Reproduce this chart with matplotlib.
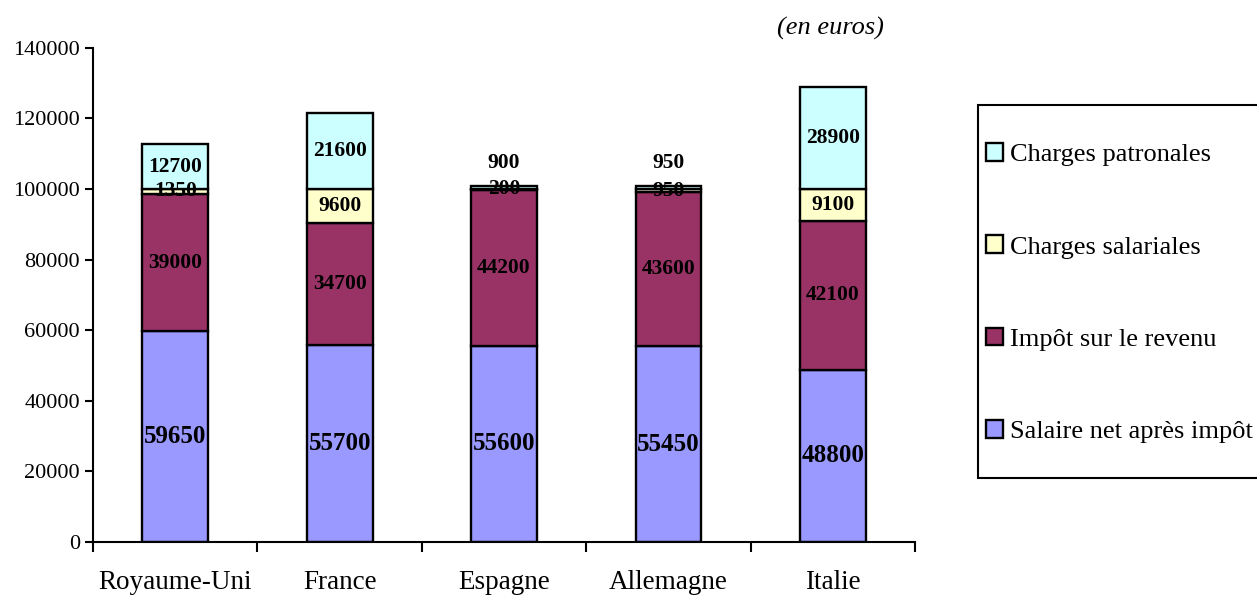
import matplotlib.pyplot as plt
from matplotlib.patches import Rectangle
import numpy as np

plt.rcParams['font.family'] = ['Liberation Serif', 'DejaVu Serif']

pays = ['Royaume-Uni', 'France', 'Espagne', 'Allemagne', 'Italie']
salaire_net = [59650, 55700, 55600, 55450, 48800]
impot_revenu = [39000, 34700, 44200, 43600, 42100]
charges_sal = [1350, 9600, 200, 950, 9100]
charges_pat = [12700, 21600, 900, 950, 28900]

series = [
    ('Salaire net après impôt', salaire_net, '#9999FF'),
    ('Impôt sur le revenu', impot_revenu, '#993366'),
    ('Charges salariales', charges_sal, '#FFFFCC'),
    ('Charges patronales', charges_pat, '#CCFFFF'),
]

fig = plt.figure(figsize=(12.57, 5.97), dpi=100)
ax = fig.add_axes([0.074, 0.092, 0.654, 0.828])

x = np.arange(len(pays))
bas = np.zeros(len(pays))
handles = []
for nom, vals, col in series:
    vals = np.array(vals, dtype=float)
    b = ax.bar(x, vals, 0.4, bottom=bas, color=col, edgecolor='black',
               linewidth=1.7, label=nom)
    handles.append(b)
    for i, v in enumerate(vals):
        taille = 18 if nom.startswith('Salaire') else 15.5
        if v < 1500 and nom == 'Charges patronales':
            # petites valeurs : étiquette au-dessus de la barre
            ax.text(x[i], bas[i] + v + 3500, f'{int(v)}', ha='center',
                    va='bottom', fontsize=taille, fontweight='bold')
        else:
            ax.text(x[i], bas[i] + v / 2, f'{int(v)}', ha='center',
                    va='center', fontsize=taille, fontweight='bold')
    bas += vals

ax.set_xlim(-0.5, len(pays) - 0.5)
ax.set_ylim(0, 140000)
ax.set_yticks(np.arange(0, 140001, 20000))
ax.set_xticks(x)
ax.set_xticklabels(pays, fontsize=19.5)
ax.set_xticks(np.arange(-0.5, len(pays)), minor=True)
ax.tick_params(axis='x', which='major', length=0, pad=20)
ax.tick_params(axis='x', which='minor', length=7, width=1.5, direction='out')
ax.tick_params(axis='y', length=6, width=1.5, labelsize=16)
for s in ['top', 'right']:
    ax.spines[s].set_visible(False)
for s in ['left', 'bottom']:
    ax.spines[s].set_linewidth(1.5)

fig.text(0.661, 0.953, '(en euros)', fontsize=19, style='italic',
         ha='center', va='center')

# cadre de la légende, ouvert sur le bord droit
fig.patches.append(Rectangle((0.778, 0.199), 0.3, 0.625, transform=fig.transFigure,
                             facecolor='white', edgecolor='black', linewidth=1.5))

fig.legend(handles[::-1], [s[0] for s in series][::-1],
           loc='upper left', bbox_to_anchor=(0.7844, 0.76),
           fontsize=19, frameon=False,
           handlelength=0.65, handleheight=0.65,
           handletextpad=0.27, labelspacing=2.62, borderpad=0,
           borderaxespad=0)

fig.savefig('out.png', dpi=100)
